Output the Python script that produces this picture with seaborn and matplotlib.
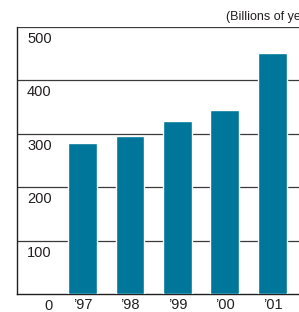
import matplotlib
matplotlib.use('Agg')
import matplotlib.pyplot as plt
import matplotlib.transforms as mtransforms
import seaborn as sns
import pandas as pd

# values (billions of yen)
years = ['\u201997', '\u201998', '\u201999', '\u201900', '\u201901']
sales = [283, 296, 324, 345, 451]
grid_levels = [100, 200, 300, 400, 500]

bar_color = '#00779a'
text_color = '#231f20'

sns.set_style('white')
plt.rcParams['font.family'] = ['Liberation Sans', 'DejaVu Sans']

df = pd.DataFrame({'year': years, 'sales': sales})

fig = plt.figure(figsize=(2.99, 3.12), dpi=100)
ax = fig.add_axes([17 / 299, 18 / 312, 282 / 299, 267 / 312])

sns.barplot(data=df, x='year', y='sales', color=bar_color, width=0.61,
            saturation=1, ax=ax, zorder=3)

ax.set_xlim(-1.38, 4.56)
ax.set_ylim(0, 500)

# horizontal rules
for lvl in grid_levels:
    ax.axhline(lvl, color='#3a3a3a', lw=0.9, zorder=1)

for s in ['right', 'top']:
    ax.spines[s].set_visible(False)
for s in ['left', 'bottom']:
    ax.spines[s].set_color(text_color)
    ax.spines[s].set_linewidth(1.0)

# y labels sit just under each rule, inside the plot
ax.set_yticks([])
lab_tr = mtransforms.offset_copy(
    mtransforms.blended_transform_factory(ax.transAxes, ax.transData),
    fig=fig, x=0, y=-5, units='dots')
for lvl in grid_levels:
    ax.text(10 / 282, lvl, str(lvl), transform=lab_tr, ha='left', va='top',
            fontsize=10.5, color=text_color)

zero_tr = mtransforms.offset_copy(
    mtransforms.blended_transform_factory(ax.transAxes, ax.transData),
    fig=fig, x=0, y=-5, units='dots')
ax.text(36 / 282, 0, '0', transform=zero_tr, ha='right', va='top',
        fontsize=10.5, color=text_color)

ax.set_xlabel('')
ax.set_ylabel('')
ax.tick_params(axis='x', length=0, pad=3, labelsize=10.5, labelcolor=text_color)

fig.text(226 / 299, 1 - 17 / 312, '(Billions of yen)', ha='left', va='center',
         fontsize=9, color=text_color,
         family=['Liberation Sans Narrow', 'Liberation Sans', 'DejaVu Sans'])

fig.savefig('out.png', dpi=100)
